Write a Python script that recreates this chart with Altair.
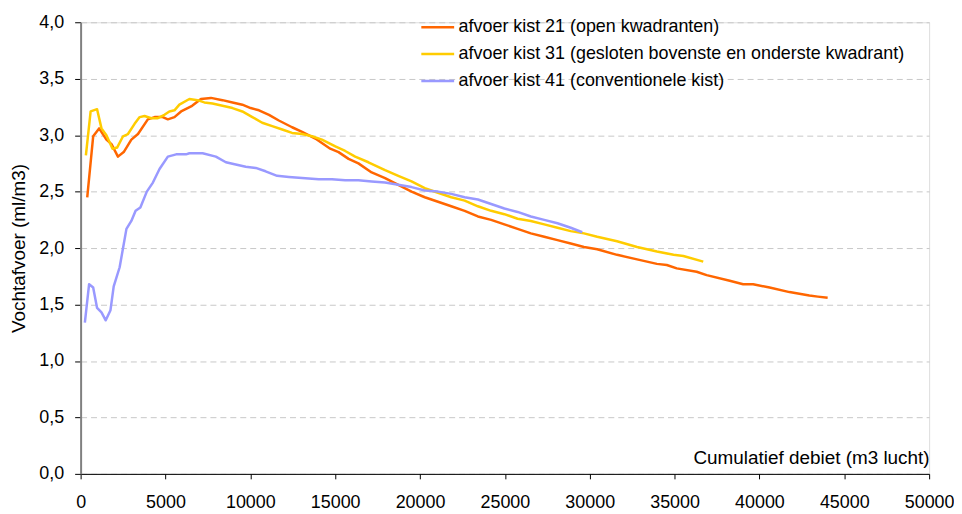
import altair as alt
import pandas as pd

series_names = [
    "afvoer kist 21 (open kwadranten)",
    "afvoer kist 31 (gesloten bovenste en onderste kwadrant)",
    "afvoer kist 41 (conventionele kist)",
]
series_colors = ["#FF6600", "#FFCC00", "#9999FF"]

x21 = [390, 740, 1090, 1520, 1820, 2200, 2540, 2990, 3380, 3960, 4360, 4840, 5140, 5530, 5920,
       6570, 7090, 7680, 8360, 8950, 9530, 10020, 10510, 11100, 11680, 12460, 13050, 13830, 14710,
       15200, 15790, 16370, 17150, 17940, 18720, 19500, 20280, 21060, 21840, 22630, 23410, 24190,
       24970, 25750, 26530, 27320, 28100, 28880, 29660, 30440, 31610, 32790, 33960, 34540, 35130,
       36300, 36890, 38250, 39040, 39630, 40600, 41770, 42940, 43440, 44020]
y21 = [2.45, 2.99, 3.06, 2.96, 2.92, 2.81, 2.85, 2.96, 3.01, 3.14, 3.16, 3.16, 3.14, 3.16, 3.21,
       3.26, 3.32, 3.33, 3.31, 3.29, 3.27, 3.24, 3.22, 3.18, 3.13, 3.07, 3.03, 2.97, 2.88,
       2.85, 2.79, 2.75, 2.67, 2.62, 2.56, 2.50, 2.45, 2.41, 2.37, 2.33, 2.28, 2.25,
       2.21, 2.17, 2.13, 2.10, 2.07, 2.04, 2.01, 1.99, 1.94, 1.90, 1.86, 1.85, 1.82,
       1.79, 1.76, 1.71, 1.68, 1.68, 1.65, 1.61, 1.58, 1.57, 1.56]

x31 = [310, 590, 970, 1230, 1520, 1880, 2150, 2500, 2790, 3180, 3480, 3770, 4160, 4550, 4940,
       5230, 5530, 5820, 6410, 6890, 7290, 7770, 8360, 8950, 9530, 10120, 10700, 11290, 11880,
       12460, 13050, 13630, 14220, 15010, 15590, 16180, 16960, 17940, 18720, 19500, 20280, 21060,
       21840, 22630, 23410, 24190, 24970, 25750, 26530, 27320, 28100, 28880, 29660, 30440, 31610,
       32790, 33960, 34940, 35520, 36690]
y31 = [2.82, 3.21, 3.23, 3.06, 3.00, 2.88, 2.89, 2.99, 3.01, 3.10, 3.16, 3.17, 3.15, 3.15, 3.18,
       3.21, 3.22, 3.27, 3.32, 3.31, 3.29, 3.28, 3.26, 3.24, 3.21, 3.16, 3.11, 3.08, 3.05,
       3.02, 3.01, 2.99, 2.96, 2.90, 2.86, 2.81, 2.76, 2.69, 2.64, 2.59, 2.53, 2.49,
       2.45, 2.42, 2.37, 2.33, 2.30, 2.26, 2.24, 2.21, 2.18, 2.15, 2.13, 2.10, 2.06,
       2.01, 1.97, 1.94, 1.93, 1.88]

x41 = [250, 500, 740, 970, 1230, 1480, 1760, 1950, 2300, 2700, 2990, 3240, 3520, 3900, 4260,
       4650, 5140, 5630, 6210, 6410, 7190, 7970, 8560, 9140, 9730, 10320, 10900, 11580, 12270,
       13050, 14030, 14810, 15590, 16370, 17150, 17940, 18720, 19500, 20280, 21060, 21840, 22630,
       23410, 24190, 24970, 25750, 26530, 27320, 28100, 28880, 29560]
y41 = [1.34, 1.68, 1.65, 1.47, 1.43, 1.36, 1.45, 1.66, 1.83, 2.17, 2.24, 2.33, 2.36, 2.50, 2.58,
       2.70, 2.81, 2.83, 2.83, 2.84, 2.84, 2.81, 2.76, 2.74, 2.72, 2.71, 2.68, 2.64, 2.63,
       2.62, 2.61, 2.61, 2.60, 2.60, 2.59, 2.58, 2.56, 2.54, 2.51, 2.50, 2.48, 2.45,
       2.43, 2.39, 2.35, 2.32, 2.28, 2.25, 2.22, 2.18, 2.14]

x_ticks = list(range(0, 50001, 5000))
y_ticks = [0.0, 0.5, 1.0, 1.5, 2.0, 2.5, 3.0, 3.5, 4.0]

rows = []
for k, (name, xs, ys) in enumerate(zip(series_names, [x21, x31, x41], [y21, y31, y41])):
    for i, (xv, yv) in enumerate(zip(xs, ys)):
        rows.append({"serie": name, "debiet": xv, "vocht": yv, "idx": i, "k": k})
df = pd.DataFrame(rows)

FONT = "Liberation Sans"
FS = 18
TFS = 19

chart = alt.Chart(df).mark_line(strokeWidth=2.5, strokeJoin="round").encode(
    x=alt.X(
        "debiet:Q",
        scale=alt.Scale(domain=[0, 50000], nice=False, zero=True),
        axis=alt.Axis(
            values=x_ticks,
            format="d",
            title="Cumulatief debiet (m3 lucht)",
            titleX=853,
            titleY=-10,
            titleAlign="right",
            titleAnchor="end",
            titleBaseline="alphabetic",
            titleFont=FONT,
            titleFontSize=TFS,
            titleFontWeight="normal",
            titleColor="#000000",
            grid=False,
            domainColor="#000000",
            domainWidth=1,
            tickColor="#000000",
            tickSize=5,
            labelFont=FONT,
            labelFontSize=FS,
            labelColor="#000000",
            labelPadding=15,
            labelFlush=False,
            labelOverlap=False,
        ),
    ),
    y=alt.Y(
        "vocht:Q",
        scale=alt.Scale(domain=[0, 4], nice=False),
        axis=alt.Axis(
            values=y_ticks,
            labelExpr="replace(format(datum.value, '.1f'), '.', ',')",
            title="Vochtafvoer (ml/m3)",
            titleX=-56,
            titleY=227,
            titleAngle=-90,
            titleAlign="center",
            titleBaseline="alphabetic",
            titleFont=FONT,
            titleFontSize=TFS,
            titleFontWeight="normal",
            titleColor="#000000",
            grid=True,
            gridDash=[6, 4],
            gridColor="#C8C8C8",
            gridWidth=1,
            domainColor="#808080",
            domainWidth=2,
            tickColor="#000000",
            tickSize=6,
            labelFont=FONT,
            labelFontSize=FS,
            labelColor="#000000",
            labelPadding=11,
            labelOverlap=False,
        ),
    ),
    color=alt.Color(
        "serie:N",
        sort=series_names,
        scale=alt.Scale(domain=series_names, range=series_colors),
        legend=alt.Legend(
            title=None,
            orient="none",
            legendX=341,
            legendY=-13,
            symbolType="stroke",
            symbolSize=1089,
            symbolStrokeWidth=2.5,
            labelFont=FONT,
            labelFontSize=FS,
            labelColor="#000000",
            labelOffset=3,
            labelLimit=700,
            rowPadding=0,
        ),
    ),
    order=alt.Order("idx:Q"),
).properties(
    width=853,
    height=454,
    autosize=alt.AutoSizeParams(type="none"),
    padding={"left": 73, "top": 13, "right": 25, "bottom": 37},
).configure_view(
    stroke=None
).configure(
    background="#ffffff"
)

chart.save("out.html", embed_options={"renderer": "svg", "actions": False})
